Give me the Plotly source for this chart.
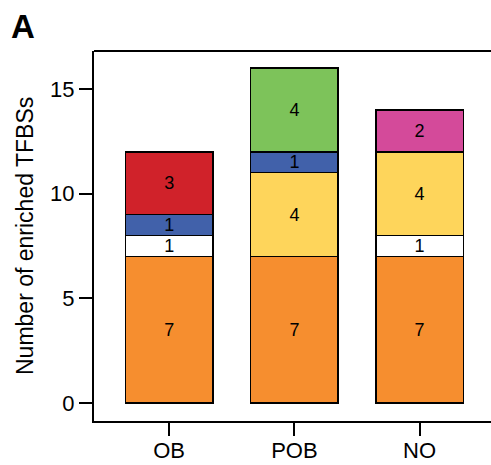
import plotly.graph_objects as go

categories = ["OB", "POB", "NO"]
orange = [7, 7, 7]
white = [1, None, 1]
yellow = [None, 4, 4]
blue = [1, 1, None]
red = [3, None, None]
green = [None, 4, None]
magenta = [None, None, 2]
y_ticks = [0, 5, 10, 15]

series = [
    (orange, "#F68E2F"),
    (white, "#FFFFFF"),
    (yellow, "#FED55B"),
    (blue, "#4161AA"),
    (red, "#D0222A"),
    (green, "#7DC35A"),
    (magenta, "#D44A9A"),
]

FONT = "Liberation Sans, Arial, sans-serif"

fig = go.Figure()
for vals, col in series:
    fig.add_trace(go.Bar(
        x=categories, y=vals,
        marker=dict(color=col, line=dict(color="black", width=1.5)),
        text=[("" if v is None else str(v)) for v in vals],
        textposition="inside", insidetextanchor="middle", textangle=0,
        constraintext="none",
        textfont=dict(family=FONT, size=18, color="black"),
        width=0.70, showlegend=False, hoverinfo="skip",
    ))

fig.update_layout(
    barmode="stack",
    width=491, height=465,
    margin=dict(l=94, r=0, t=51, b=44),
    paper_bgcolor="white", plot_bgcolor="white",
    font=dict(family=FONT, size=22, color="black"),
    xaxis=dict(range=[-0.6, 2.57], showline=True, linecolor="black", linewidth=2,
               ticks="outside", ticklen=13, tickwidth=2, tickcolor="black",
               showgrid=False, zeroline=False, tickfont=dict(size=22),
               ticklabelstandoff=-4),
    yaxis=dict(range=[-0.86, 16.815], tickvals=y_ticks, showline=True,
               linecolor="black", linewidth=2, ticks="outside", ticklen=13,
               tickwidth=2, tickcolor="black", showgrid=False, zeroline=False,
               tickfont=dict(size=22)),
    shapes=[dict(type="line", xref="paper", yref="paper", x0=0, x1=1.01, y0=1, y1=1,
                 line=dict(color="black", width=2))],
    annotations=[
        dict(text="<b>A</b>", xref="paper", yref="paper", x=(9 - 94) / 397,
             y=(421 - 6) / 370, xanchor="left", yanchor="top", showarrow=False,
             font=dict(family=FONT, size=33, color="black")),
        dict(text="Number of enriched TFBSs", xref="paper", yref="paper",
             x=(25 - 94) / 397, y=(421 - 236) / 370, textangle=-90,
             xanchor="center", yanchor="middle", showarrow=False,
             font=dict(family=FONT, size=23, color="black")),
    ],
)

fig.write_html("out.html")
